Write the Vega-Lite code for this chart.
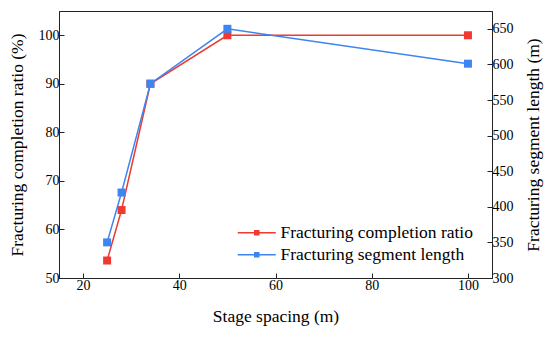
{
  "$schema": "https://vega.github.io/schema/vega-lite/v6.json",
  "width": 433,
  "height": 267,
  "autosize": "none",
  "padding": {"left": 59, "top": 11, "right": 58, "bottom": 59},
  "background": "white",
  "config": {
    "font": "Liberation Serif",
    "view": {"stroke": "#222", "strokeWidth": 1},
    "axis": {
      "grid": false,
      "domainColor": "#222",
      "tickColor": "#222",
      "labelColor": "#000",
      "titleColor": "#000",
      "labelFont": "Liberation Serif",
      "titleFont": "Liberation Serif",
      "labelFontSize": 14,
      "titleFontSize": 17.5,
      "titleFontWeight": "normal",
      "tickSize": -5,
      "labelPadding": 5
    }
  },
  "data": {
    "values": [
      {"spacing": 25, "ratio": 53.6, "length": 350},
      {"spacing": 28, "ratio": 64, "length": 420},
      {"spacing": 34, "ratio": 90, "length": 573},
      {"spacing": 50, "ratio": 100, "length": 650},
      {"spacing": 100, "ratio": 100, "length": 601}
    ]
  },
  "layer": [
    {
      "mark": {"type": "line", "strokeWidth": 1.5, "point": {"shape": "square", "filled": true, "size": 64, "opacity": 1}},
      "encoding": {
        "x": {"field": "spacing", "type": "quantitative", "scale": {"domain": [15, 105], "nice": false}, "axis": {"values": [20, 40, 60, 80, 100], "title": "Stage spacing (m)", "titlePadding": 15}},
        "y": {"field": "ratio", "type": "quantitative", "scale": {"domain": [50, 105], "nice": false, "zero": false}, "axis": {"values": [50, 60, 70, 80, 90, 100], "title": "Fracturing completion ratio (%)", "titlePadding": 12}},
        "color": {"datum": "Fracturing completion ratio", "type": "nominal"}
      }
    },
    {
      "mark": {"type": "line", "strokeWidth": 1.5, "point": {"shape": "square", "filled": true, "size": 64, "opacity": 1}},
      "encoding": {
        "x": {"field": "spacing", "type": "quantitative"},
        "y": {"field": "length", "type": "quantitative", "scale": {"domain": [300, 675], "nice": false, "zero": false}, "axis": {"orient": "right", "values": [300, 350, 400, 450, 500, 550, 600, 650], "title": "Fracturing segment length (m)", "titleAngle": 270, "titleBaseline": "top", "titlePadding": 11}},
        "color": {"datum": "Fracturing segment length", "type": "nominal",
          "scale": {"domain": ["Fracturing completion ratio", "Fracturing segment length"], "range": ["#EE3A30", "#3D85F0"]},
          "legend": {
            "title": null,
            "orient": "none",
            "legendX": 189,
            "legendY": 213,
            "symbolType": "M-3.8,0H-0.4M0.4,0H3.8M-0.4,-0.4H0.4V0.4H-0.4Z",
            "symbolSize": 100,
            "symbolStrokeWidth": 1.5,
            "labelOffset": 15,
            "labelFontSize": 17.5,
            "labelFont": "Liberation Serif",
            "labelColor": "#000",
            "labelLimit": 0,
            "rowPadding": 3
          }
        }
      }
    }
  ],
  "resolve": {"scale": {"y": "independent"}}
}
